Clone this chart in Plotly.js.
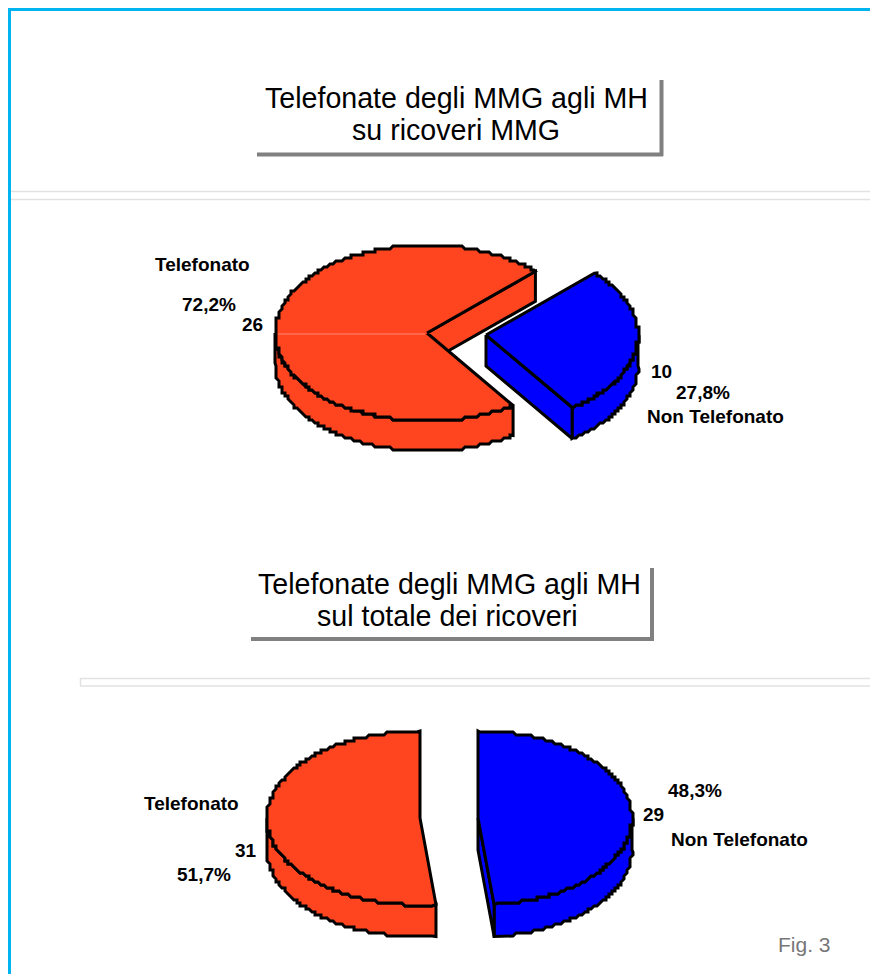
<!DOCTYPE html>
<html><head><meta charset="utf-8">
<script src="https://cdn.plot.ly/plotly-3.0.1.min.js"></script>
<style>html,body{margin:0;padding:0;background:#fff}#c{width:870px;height:974px}</style>
</head><body><div id="c"></div>
<script>
// ---- data ----
const categories = ["Telefonato", "Non Telefonato"];
const counts1 = [26, 10];
const percentLabels1 = ["72,2%", "27,8%"];
const counts2 = [31, 29];
const percentLabels2 = ["51,7%", "48,3%"];
const title1 = ["Telefonate degli MMG agli MH", "su ricoveri MMG"];
const title2 = ["Telefonate degli MMG agli MH", "sul totale dei ricoveri"];
const figLabel = "Fig. 3";
const sliceColors = ["#FF4520", "#0000FF"];

// ---- elliptical pie built from the values ----
const OUT = "#000";
const traces = [];
function arc(p, a0, a1, drop) {
  const pts = [], n = Math.max(2, Math.round(Math.abs(a1 - a0)));
  for (let i = 0; i <= n; i++) {
    const t = (a0 + (a1 - a0) * i / n) * Math.PI / 180;
    let x = p.cx + p.rx * Math.cos(t), y = p.cy - p.ry * Math.sin(t) + (drop || 0);
    if (i > 0 && i < n) { x = Math.round(x / 3) * 3; y = Math.round(y / 3) * 3; }
    pts.push([x, y]);
  }
  return pts;
}
function poly(pts, color) {
  const c = pts.concat([pts[0]]);
  traces.push({type: "scatter", mode: "lines", x: c.map(q => q[0]), y: c.map(q => q[1]),
    fill: "toself", fillcolor: color, line: {color: OUT, width: 3, shape: "linear"},
    hoverinfo: "skip", showlegend: false});
}
function slice(p, a0, a1, color) {
  const D = p.depth, apex = [p.cx, p.cy];
  const rad = a => a * Math.PI / 180;
  const pt = (a, d) => [p.cx + p.rx * Math.cos(rad(a)), p.cy - p.ry * Math.sin(rad(a)) + d];
  // the side wall: the part of the rim on the front of the ellipse
  const lo = Math.max(a0, 180), hi = Math.min(a1, 360);
  if (hi > lo) poly(arc(p, lo, hi, 0).concat(arc(p, hi, lo, D)), color);
  // the cut face
  if (p.faceStart) poly([apex, pt(a0, 0), pt(a0, D), [p.cx, p.cy + D]], color);
  // the top face
  poly([apex].concat(arc(p, a0, a1, 0)), color);
}
function pie(vals, start, pRed, pBlue) {
  const total = vals[0] + vals[1];
  const mid = start + 360 * vals[0] / total;
  slice(pRed, start, mid, sliceColors[0]);
  slice(pBlue, mid, start + 360, sliceColors[1]);
}
pie(counts1, 44.5,
  {cx: 427, cy: 333, rx: 152, ry: 88, depth: 30, faceStart: true},
  {cx: 486, cy: 335, rx: 152, ry: 88, depth: 31, faceStart: true});
pie(counts2, 90,
  {cx: 420, cy: 818, rx: 153, ry: 87, depth: 32},
  {cx: 478, cy: 818, rx: 154, ry: 87, depth: 32, faceStart: true});
// faint highlight inside the first red slice
traces.push({type: "scatter", mode: "lines", x: [278, 425], y: [334, 334],
  line: {color: "#FF8A70", width: 1}, hoverinfo: "skip", showlegend: false});

// ---- text ----
const BOLD = {family: "Liberation Sans", size: 19, color: "#000"};
const TITLE = {family: "Liberation Sans", size: 28.6, color: "#000"};
const t = (x, y, text, font) => ({x, y, text, font, xref: "x", yref: "y", showarrow: false,
  xanchor: "center", yanchor: "middle"});
const annotations = [
  t(456, 98, title1[0], TITLE), t(456, 130, title1[1], TITLE),
  t(449, 584, title2[0], TITLE), t(447, 616, title2[1], TITLE),
  t(202, 264, "<b>" + categories[0] + "</b>", BOLD),
  t(209, 304, "<b>" + percentLabels1[0] + "</b>", BOLD),
  t(252, 324, "<b>" + counts1[0] + "</b>", BOLD),
  t(661, 371, "<b>" + counts1[1] + "</b>", BOLD),
  t(703, 392, "<b>" + percentLabels1[1] + "</b>", BOLD),
  t(715, 416, "<b>" + categories[1] + "</b>", BOLD),
  t(191, 803, "<b>" + categories[0] + "</b>", BOLD),
  t(246, 850, "<b>" + counts2[0] + "</b>", BOLD),
  t(204, 874, "<b>" + percentLabels2[0] + "</b>", BOLD),
  t(695, 790, "<b>" + percentLabels2[1] + "</b>", BOLD),
  t(653, 814, "<b>" + counts2[1] + "</b>", BOLD),
  t(739, 839, "<b>" + categories[1] + "</b>", BOLD),
  t(804, 944, figLabel, {family: "Liberation Sans", size: 21, color: "#777777"})
];

// ---- frame, rules and title shadows ----
const line = (x0, y0, x1, y1, color, width) => ({type: "line", xref: "x", yref: "y", x0, y0, x1, y1,
  line: {color, width}, layer: "below"});
const shapes = [
  line(9.5, 9, 9.5, 974, "#00B4F0", 3), line(8, 9.5, 870, 9.5, "#00B4F0", 3),
  line(11, 191.5, 870, 191.5, "#E2E2E2", 1.5), line(11, 199.5, 870, 199.5, "#E2E2E2", 1.5),
  line(80, 678.5, 870, 678.5, "#E2E2E2", 1.5), line(80, 686, 870, 686, "#E2E2E2", 1.5),
  line(80.5, 678, 80.5, 686, "#E2E2E2", 1.5),
  line(661.5, 80, 661.5, 156, "#808080", 4), line(257, 154.5, 663, 154.5, "#808080", 4),
  line(652, 568, 652, 641, "#808080", 4), line(251, 639, 654, 639, "#808080", 4)
];

Plotly.newPlot("c", traces, {
  width: 870, height: 974, margin: {l: 0, r: 0, t: 0, b: 0},
  paper_bgcolor: "#fff", plot_bgcolor: "#fff", showlegend: false,
  xaxis: {range: [0, 870], visible: false, fixedrange: true},
  yaxis: {range: [974, 0], visible: false, fixedrange: true},
  annotations, shapes
}, {staticPlot: true, displayModeBar: false});
</script></body></html>
